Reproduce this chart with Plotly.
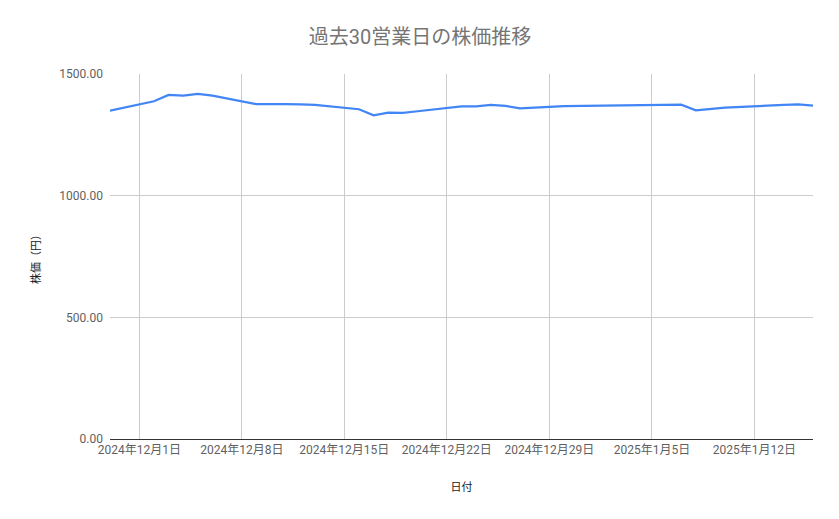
import plotly.graph_objects as go

# 過去30営業日 (date, close)
dates = [
    "2024-11-29",
    "2024-12-02", "2024-12-03", "2024-12-04", "2024-12-05", "2024-12-06",
    "2024-12-09", "2024-12-10", "2024-12-11", "2024-12-12", "2024-12-13",
    "2024-12-16", "2024-12-17", "2024-12-18", "2024-12-19", "2024-12-20",
    "2024-12-23", "2024-12-24", "2024-12-25", "2024-12-26", "2024-12-27",
    "2024-12-30",
    "2025-01-06", "2025-01-07", "2025-01-08", "2025-01-09", "2025-01-10",
    "2025-01-14", "2025-01-15", "2025-01-16",
]
prices = [
    1349,
    1388, 1414, 1411, 1418, 1411,
    1376, 1377, 1376, 1375, 1373,
    1355, 1330, 1341, 1340, 1347,
    1367, 1367, 1373, 1369, 1359,
    1368,
    1374, 1374, 1351, 1358, 1362,
    1373, 1375, 1370,
]

tick_dates = ["2024-12-01", "2024-12-08", "2024-12-15", "2024-12-22",
              "2024-12-29", "2025-01-05", "2025-01-12"]
tick_text = ["2024年12月1日", "2024年12月8日", "2024年12月15日", "2024年12月22日",
             "2024年12月29日", "2025年1月5日", "2025年1月12日"]
y_ticks = [0, 500, 1000, 1500]

fig = go.Figure()
fig.add_trace(go.Scatter(x=dates, y=prices, mode="lines",
                         line=dict(color="#4285F4", width=2.2)))

# page adds ~8px body margin, so margins are offset for that
fig.update_layout(
    width=839, height=519,
    paper_bgcolor="white", plot_bgcolor="white",
    margin=dict(l=102, r=34, t=66, b=88),
    showlegend=False,
    font=dict(family="Roboto, 'Noto Sans CJK JP', sans-serif", size=12, color="#444444"),
    title=dict(text="過去30営業日の株価推移", x=0.491, xanchor="center",
               y=0.945, yanchor="middle",
               font=dict(size=20, color="#757575")),
)
fig.update_xaxes(
    range=["2024-11-29", "2025-01-16"],
    tickvals=tick_dates, ticktext=tick_text,
    showgrid=True, gridcolor="#cccccc", gridwidth=1,
    showline=True, linecolor="#333333", linewidth=1,
    ticks="", tickfont=dict(size=12, color="#5f5f5f"),
    title=dict(text="日付", font=dict(size=11, color="#222222"), standoff=26),
    zeroline=False,
)
fig.update_yaxes(
    range=[0, 1500], tickvals=y_ticks, tickformat=".2f",
    showgrid=True, gridcolor="#cccccc", gridwidth=1,
    showline=False, ticks="", ticklen=0, ticklabelstandoff=6,
    tickfont=dict(size=12, color="#5f5f5f"),
    title=dict(text="株価（円）", font=dict(size=11, color="#222222"), standoff=16),
    zeroline=False,
)

fig.write_html("out.html")
